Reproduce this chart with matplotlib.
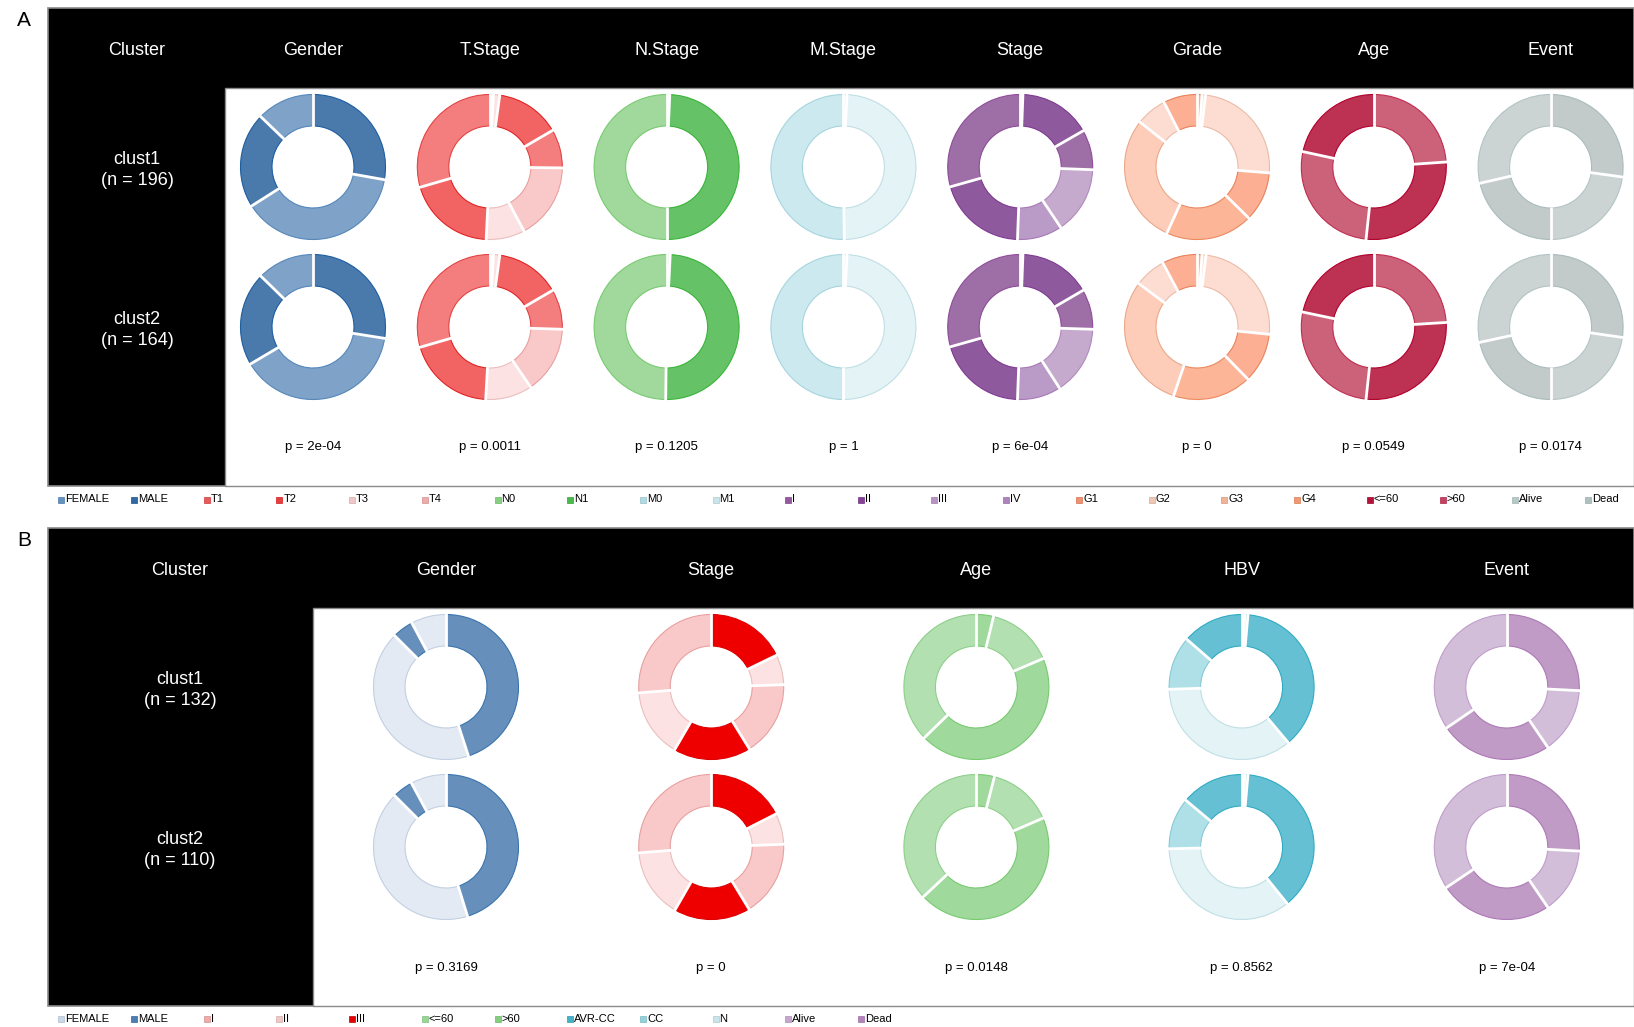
import numpy as np
import matplotlib
matplotlib.use("Agg")
import matplotlib.pyplot as plt
import matplotlib.colors as mcolors
from matplotlib.patches import Rectangle

plt.rcParams['font.family'] = ['Liberation Sans', 'DejaVu Sans']

W, H = 1634, 1027
R_OUT, R_IN = 72.5, 41

# ------------------------------------------------------------------ panel A
clusters_a = ["clust1", "clust2"]
n_a = [196, 164]
vars_a = ["Gender", "T.Stage", "N.Stage", "M.Stage", "Stage", "Grade", "Age", "Event"]
pvals_a = ["2e-04", "0.0011", "0.1205", "1", "6e-04", "0", "0.0549", "0.0174"]

cols_a = {
    "FEMALE": "#7fa3c8", "MALE": "#4a7aac",
    "T1": "#f47e7e", "T2": "#f26464", "T3": "#fce2e2", "T4": "#f9c9c9",
    "N0": "#a0d99b", "N1": "#66c266",
    "M0": "#cbe9ef", "M1": "#e3f3f6",
    "I": "#9e6ea6", "II": "#8f5a9d", "III": "#c5aacd", "IV": "#ba9ac6",
    "G1": "#fcaf93", "G2": "#fdddd1", "G3": "#fdcdb9", "G4": "#fdb597",
    "<=60": "#bd3153", ">60": "#cc617a",
    "Alive": "#ccd3d3", "Dead": "#c3caca",
}
legend_a = ["FEMALE", "MALE", "T1", "T2", "T3", "T4", "N0", "N1", "M0", "M1",
            "I", "II", "III", "IV", "G1", "G2", "G3", "G4", "<=60", ">60", "Alive", "Dead"]

# slices go clockwise from 12 o'clock: (level, share in %)
gender_a = [
    [("MALE", 27.8), ("FEMALE", 38.2), ("MALE", 21.2), ("FEMALE", 12.8)],
    [("MALE", 27.5), ("FEMALE", 39.0), ("MALE", 20.8), ("FEMALE", 12.7)],
]
tstage_a = [
    [("T4", 0.8), ("T3", 1.4), ("T2", 14.4), ("T1", 8.6), ("T4", 17.0), ("T3", 8.6), ("T2", 19.7), ("T1", 29.5)],
    [("T4", 0.8), ("T3", 1.4), ("T2", 14.4), ("T1", 8.9), ("T4", 15.0), ("T3", 10.4), ("T2", 19.6), ("T1", 29.5)],
]
nstage_a = [
    [("N1", 0.7), ("N1", 49.3), ("N0", 50.0)],
    [("N1", 0.8), ("N1", 49.4), ("N0", 49.8)],
]
mstage_a = [
    [("M1", 0.8), ("M1", 49.0), ("M0", 50.2)],
    [("M1", 0.8), ("M1", 49.2), ("M0", 50.0)],
]
stage_a = [
    [("IV", 0.6), ("II", 16.1), ("I", 8.9), ("III", 15.0), ("IV", 10.0), ("II", 20.0), ("I", 29.4)],
    [("IV", 0.6), ("II", 16.0), ("I", 8.9), ("III", 15.4), ("IV", 9.7), ("II", 20.0), ("I", 29.4)],
]
grade_a = [
    [("G1", 1.1), ("G2", 0.8), ("G2", 24.4), ("G1", 11.1), ("G4", 19.4), ("G3", 28.8), ("G2", 6.9), ("G1", 7.5)],
    [("G1", 1.1), ("G2", 0.9), ("G2", 24.6), ("G1", 11.1), ("G4", 17.5), ("G3", 30.0), ("G2", 7.0), ("G1", 7.8)],
]
age_a = [
    [(">60", 23.9), ("<=60", 27.8), (">60", 26.7), ("<=60", 21.6)],
    [(">60", 24.0), ("<=60", 27.7), (">60", 26.6), ("<=60", 21.7)],
]
event_a = [
    [("Dead", 27.2), ("Alive", 22.8), ("Dead", 21.4), ("Alive", 28.6)],
    [("Dead", 27.3), ("Alive", 22.7), ("Dead", 21.6), ("Alive", 28.4)],
]
slices_a = [gender_a, tstage_a, nstage_a, mstage_a, stage_a, grade_a, age_a, event_a]

# ------------------------------------------------------------------ panel B
clusters_b = ["clust1", "clust2"]
n_b = [132, 110]
vars_b = ["Gender", "Stage", "Age", "HBV", "Event"]
pvals_b = ["0.3169", "0", "0.0148", "0.8562", "7e-04"]

cols_b = {
    "FEMALE": "#e3eaf3", "MALE": "#6690bb",
    "I": "#f9c9c9", "II": "#fce2e2", "III": "#ee0000",
    "<=60": "#b2e0b0", ">60": "#9fd99b",
    "AVR-CC": "#64c0d2", "CC": "#afdfe7", "N": "#e3f3f6",
    "Alive": "#d3beda", "Dead": "#bf9bc5",
}
legend_b = ["FEMALE", "MALE", "I", "II", "III", "<=60", ">60", "AVR-CC", "CC", "N", "Alive", "Dead"]

gender_b = [
    [("MALE", 45.0), ("FEMALE", 42.5), ("MALE", 4.7), ("FEMALE", 7.8)],
    [("MALE", 45.2), ("FEMALE", 42.3), ("MALE", 4.6), ("FEMALE", 7.9)],
]
stage_b = [
    [("III", 17.8), ("II", 6.7), ("I", 16.7), ("III", 17.2), ("II", 15.3), ("I", 26.3)],
    [("III", 17.5), ("II", 6.9), ("I", 16.9), ("III", 17.0), ("II", 15.4), ("I", 26.3)],
]
age_b = [
    [(">60", 3.8), ("<=60", 14.8), (">60", 44.1), ("<=60", 37.3)],
    [(">60", 4.0), ("<=60", 14.5), (">60", 44.5), ("<=60", 37.0)],
]
hbv_b = [
    [("N", 0.7), ("CC", 0.7), ("AVR-CC", 37.5), ("N", 35.6), ("CC", 11.9), ("AVR-CC", 13.6)],
    [("N", 0.7), ("CC", 0.7), ("AVR-CC", 37.8), ("N", 35.4), ("CC", 11.5), ("AVR-CC", 13.9)],
]
event_b = [
    [("Dead", 25.8), ("Alive", 14.7), ("Dead", 25.0), ("Alive", 34.5)],
    [("Dead", 25.9), ("Alive", 14.6), ("Dead", 25.1), ("Alive", 34.4)],
]
slices_b = [gender_b, stage_b, age_b, hbv_b, event_b]


def shade(c, ds=1.35, dv=0.93):
    h, s, v = mcolors.rgb_to_hsv(mcolors.to_rgb(c))
    return mcolors.hsv_to_rgb((h, min(1.0, s * ds + 0.05), v * dv))


fig = plt.figure(figsize=(W / 100, H / 100), dpi=100)
ax = fig.add_axes([0, 0, 1, 1])


def donut(cx, cy, slices, cmap):
    labs = [s[0] for s in slices]
    vals = np.array([s[1] for s in slices], float)
    face = [cmap[l] for l in labs]
    wedges, _ = ax.pie(vals, colors=face, center=(cx, cy), radius=R_OUT,
                       startangle=270, counterclock=True, frame=True,
                       wedgeprops=dict(width=R_OUT - R_IN, linewidth=0.8))
    for w, c in zip(wedges, face):
        w.set_edgecolor(shade(c))
        w.set_zorder(3)
    # white gaps between slices
    ang = np.deg2rad(270 + np.cumsum(vals) / vals.sum() * 360)
    for a in ang:
        ax.plot([cx + (R_IN - 1.5) * np.cos(a), cx + (R_OUT + 1.5) * np.cos(a)],
                [cy + (R_IN - 1.5) * np.sin(a), cy + (R_OUT + 1.5) * np.sin(a)],
                color="white", lw=2.0, solid_capstyle="butt", zorder=4)


def panel(letter, top, bottom, left_w, head_h, cluster_x, x0, dx, row_y, pval_y,
          vars_, clusters, ns, pvals, slices, cmap, legend, legend_y):
    ax.text(24, top + 12, letter, fontsize=15, ha="center", va="center")
    ax.add_patch(Rectangle((48, top), W - 48, bottom - top, facecolor="black",
                           edgecolor="#8a8a8a", lw=1.2, zorder=1))
    ax.add_patch(Rectangle((left_w, top + head_h), W - left_w, bottom - top - head_h,
                           facecolor="white", edgecolor="#8a8a8a", lw=1.0, zorder=1))
    hy = top + head_h / 2 + 2.5
    ax.text(cluster_x, hy, "Cluster", color="white", fontsize=13, ha="center", va="center")
    for j, v in enumerate(vars_):
        ax.text(x0 + dx * j, hy, v, color="white", fontsize=13, ha="center", va="center")
        ax.text(x0 + dx * j, pval_y, "p = " + pvals[j], fontsize=9.5, ha="center", va="center")
        for i in range(len(clusters)):
            donut(x0 + dx * j, row_y[i], slices[j][i], cmap)
    for i, cl in enumerate(clusters):
        ax.text(cluster_x, row_y[i] + 3, "%s\n(n = %d)" % (cl, ns[i]), color="white",
                fontsize=13, ha="center", va="center", linespacing=1.3)
    for k, lab in enumerate(legend):
        lx = 58.3 + 72.7 * k
        ax.add_patch(Rectangle((lx, legend_y - 3), 6, 6, facecolor=shade(cmap[lab], 1.15, 0.95),
                               edgecolor=shade(cmap[lab], 1.4, 0.85), lw=0.5, zorder=2))
        ax.text(lx + 7, legend_y, lab, fontsize=8, ha="left", va="center")


panel("A", 8, 486, 225, 80, 137, 313, 176.8, [167, 327], 447,
      vars_a, clusters_a, n_a, pvals_a, slices_a, cols_a, legend_a, 499.5)
panel("B", 528, 1006, 313, 80, 180, 446, 265.2, [687, 847], 968,
      vars_b, clusters_b, n_b, pvals_b, slices_b, cols_b, legend_b, 1018.5)

ax.set_xlim(0, W)
ax.set_ylim(H, 0)
ax.set_aspect("auto")
ax.axis("off")
fig.savefig("out.png", dpi=100, facecolor="white")
